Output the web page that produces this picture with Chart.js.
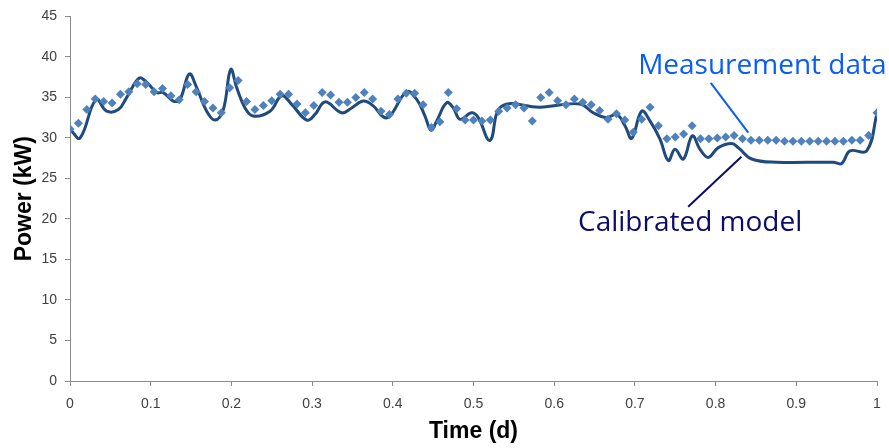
<!DOCTYPE html>
<html>
<head>
    <title>Power - measurement vs calibrated model</title>
    <script src="https://cdn.jsdelivr.net/npm/chart.js"></script>
</head>
<body style="margin: 0; background-color: #ffffff;">
    <div style="width: 889px; height: 448px; position: relative;">
        <canvas id="myChart"></canvas>
    </div>

    <script>
        // Measurement data, one sample every 15 minutes (time in days)
        var measTimes = [
            0, 0.0104, 0.0208, 0.0313, 0.0417, 0.0521, 0.0625, 0.0729, 0.0833, 0.0938,
            0.1042, 0.1146, 0.125, 0.1354, 0.1458, 0.1563, 0.1667, 0.1771, 0.1875, 0.1979,
            0.2083, 0.2188, 0.2292, 0.2396, 0.25, 0.2604, 0.2708, 0.2813, 0.2917, 0.3021,
            0.3125, 0.3229, 0.3333, 0.3438, 0.3542, 0.3646, 0.375, 0.3854, 0.3958, 0.4063,
            0.4167, 0.4271, 0.4375, 0.4479, 0.4583, 0.4688, 0.4792, 0.4896, 0.5, 0.5104,
            0.5208, 0.5313, 0.5417, 0.5521, 0.5625, 0.5729, 0.5833, 0.5938, 0.6042, 0.6146,
            0.625, 0.6354, 0.6458, 0.6563, 0.6667, 0.6771, 0.6875, 0.6979, 0.7083, 0.7188,
            0.7292, 0.7396, 0.75, 0.7604, 0.7708, 0.7813, 0.7917, 0.8021, 0.8125, 0.8229,
            0.8333, 0.8438, 0.8542, 0.8646, 0.875, 0.8854, 0.8958, 0.9063, 0.9167, 0.9271,
            0.9375, 0.9479, 0.9583, 0.9688, 0.9792, 0.9896, 1
        ];
        var measPower = [
            31.1, 31.8, 33.5, 34.8, 34.5, 34.3, 35.4, 35.7, 36.7, 36.6,
            35.7, 36.1, 35.2, 34.7, 36.6, 35.7, 34.5, 33.7, 33.1, 36.2,
            37.1, 34.5, 33.5, 34.0, 34.6, 35.4, 35.4, 34.2, 33.1, 34.0,
            35.6, 35.3, 34.4, 34.4, 35.0, 35.6, 34.8, 33.3, 32.9, 34.8,
            35.5, 35.5, 34.1, 31.3, 32.0, 35.6, 33.6, 32.2, 32.2, 32.1,
            32.2, 33.3, 33.7, 34.1, 33.7, 32.1, 35.0, 35.6, 34.6, 34.1,
            34.8, 34.4, 34.1, 33.4, 32.3, 33.0, 32.2, 30.7, 32.3, 33.8,
            31.5, 29.9, 30.1, 30.5, 31.5, 29.9, 29.9, 30.0, 30.1, 30.3,
            29.9, 29.7, 29.7, 29.7, 29.7, 29.6, 29.6, 29.6, 29.6, 29.6,
            29.6, 29.6, 29.6, 29.7, 29.7, 30.3, 33.1
        ];

        // Calibrated model
        var modelTimes = [
            0, 0.0124, 0.0322, 0.0455, 0.0599, 0.0703, 0.0859, 0.0958, 0.1074, 0.1156,
            0.128, 0.1363, 0.1478, 0.157, 0.1694, 0.1797, 0.19, 0.1991, 0.2066, 0.2169,
            0.2271, 0.2478, 0.2623, 0.2747, 0.2933, 0.3036, 0.316, 0.3367, 0.3491, 0.3634,
            0.3758, 0.3882, 0.3965, 0.4172, 0.4296, 0.4399, 0.4473, 0.4544, 0.4668, 0.475,
            0.4833, 0.4978, 0.5059, 0.5204, 0.5349, 0.5824, 0.632, 0.6484, 0.665, 0.6775,
            0.6877, 0.696, 0.7084, 0.7187, 0.7311, 0.7414, 0.7497, 0.76, 0.7711, 0.7807,
            0.7909, 0.8033, 0.82, 0.8281, 0.8448, 0.8757, 0.9458, 0.9563, 0.9665, 0.9872, 1
        ];
        var modelPower = [
            31.1, 30.0, 34.75, 33.3, 33.5, 35.0, 37.4, 36.8, 35.6, 35.6,
            34.55, 34.75, 37.9, 36.2, 33.3, 32.2, 33.5, 38.45, 36.2, 33.7,
            32.7, 33.3, 35.2, 34.15, 32.2, 32.9, 34.45, 33.1, 33.7, 34.55,
            33.95, 32.6, 32.7, 35.7, 34.75, 32.7, 30.95, 32.1, 34.35, 33.7,
            32.3, 33.1, 32.5, 29.7, 33.9, 33.8, 34.2, 33.1, 32.5, 32.9,
            31.5, 29.95, 33.3, 32.1, 29.85, 27.2, 28.6, 27.4, 30.25, 28.6,
            27.6, 28.8, 29.3, 28.8, 27.4, 27.0, 27.0, 26.85, 28.4, 28.4, 33.0
        ];

        var xTickLabels = ['0', '0.1', '0.2', '0.3', '0.4', '0.5', '0.6', '0.7', '0.8', '0.9', '1'];
        var yTickLabels = ['0', '5', '10', '15', '20', '25', '30', '35', '40', '45'];

        // Callout labels: text, anchor (time, power), leader line from/to
        var callouts = [
            { text: 'Measurement data', color: '#0a5cf5', at: [0.704, 38.85], from: [0.794, 36.8], to: [0.8405, 30.65] },
            { text: 'Calibrated model', color: '#0b0b6b', at: [0.6295, 19.45], from: [0.832, 27.67], to: [0.766, 21.5] }
        ];

        function toXY(times, values) {
            return times.map(function (t, i) { return { x: t, y: values[i] }; });
        }

        var calloutPlugin = {
            id: 'callouts',
            afterDatasetsDraw: function (chart) {
                var c = chart.ctx, xs = chart.scales.x, ys = chart.scales.y;
                c.save();
                callouts.forEach(function (a) {
                    c.strokeStyle = a.color;
                    c.lineWidth = 2;
                    c.beginPath();
                    c.moveTo(xs.getPixelForValue(a.from[0]), ys.getPixelForValue(a.from[1]));
                    c.lineTo(xs.getPixelForValue(a.to[0]), ys.getPixelForValue(a.to[1]));
                    c.stroke();
                    c.fillStyle = a.color;
                    c.font = '28px "Open Sans", sans-serif';
                    c.textAlign = 'left';
                    c.textBaseline = 'middle';
                    c.fillText(a.text, xs.getPixelForValue(a.at[0]), ys.getPixelForValue(a.at[1]));
                });
                c.restore();
            }
        };

        var axisColor = '#8c8c8c';
        var tickFont = { family: '"Liberation Sans", Arial, sans-serif', size: 14 };
        var titleFont = { family: '"Liberation Sans", Arial, sans-serif', size: 23, weight: 'bold' };

        var ctx = document.getElementById('myChart').getContext('2d');
        var myChart = new Chart(ctx, {
            type: 'line',
            data: {
                datasets: [
                    {
                        label: 'Measurement data',
                        data: toXY(measTimes, measPower),
                        showLine: false,
                        pointStyle: 'rectRot',
                        pointRadius: 4.5,
                        pointBackgroundColor: '#4f81bd',
                        pointBorderColor: '#4f81bd',
                        pointBorderWidth: 0
                    },
                    {
                        label: 'Calibrated model',
                        data: toXY(modelTimes, modelPower),
                        borderColor: '#1f4a7e',
                        borderWidth: 3,
                        tension: 0.4,
                        pointRadius: 0,
                        fill: false
                    }
                ]
            },
            options: {
                responsive: true,
                maintainAspectRatio: false,
                animation: false,
                layout: { padding: { top: 15, right: 12, left: 0, bottom: 0 } },
                plugins: {
                    legend: { display: false },
                    tooltip: { enabled: false }
                },
                scales: {
                    x: {
                        type: 'linear',
                        min: 0,
                        max: 1,
                        afterFit: function (s) {
                            s.height = 67;
                            s.paddingLeft = 0;
                            s.paddingRight = 0;
                        },
                        afterBuildTicks: function (s) {
                            s.ticks = xTickLabels.map(function (l) { return { value: parseFloat(l) }; });
                        },
                        border: { color: axisColor, width: 1 },
                        grid: { drawOnChartArea: false, drawTicks: true, tickLength: 5, color: axisColor },
                        ticks: {
                            color: '#404040',
                            font: tickFont,
                            padding: 10,
                            maxRotation: 0,
                            callback: function (v, i) { return xTickLabels[i]; }
                        },
                        title: {
                            display: true,
                            text: 'Time (d)',
                            color: '#000000',
                            font: titleFont,
                            padding: { top: 0, bottom: 3 }
                        }
                    },
                    y: {
                        min: 0,
                        max: 45,
                        afterFit: function (s) { s.width = 70; },
                        afterBuildTicks: function (s) {
                            s.ticks = yTickLabels.map(function (l) { return { value: parseFloat(l) }; });
                        },
                        border: { color: axisColor, width: 1 },
                        grid: { drawOnChartArea: false, drawTicks: true, tickLength: 5, color: axisColor },
                        ticks: {
                            color: '#404040',
                            font: tickFont,
                            padding: 8,
                            callback: function (v, i) { return yTickLabels[i]; }
                        },
                        title: {
                            display: true,
                            text: 'Power (kW)',
                            color: '#000000',
                            font: titleFont,
                            padding: { top: 11, bottom: 0 }
                        }
                    }
                }
            },
            plugins: [calloutPlugin]
        });
    </script>
</body>
</html>
